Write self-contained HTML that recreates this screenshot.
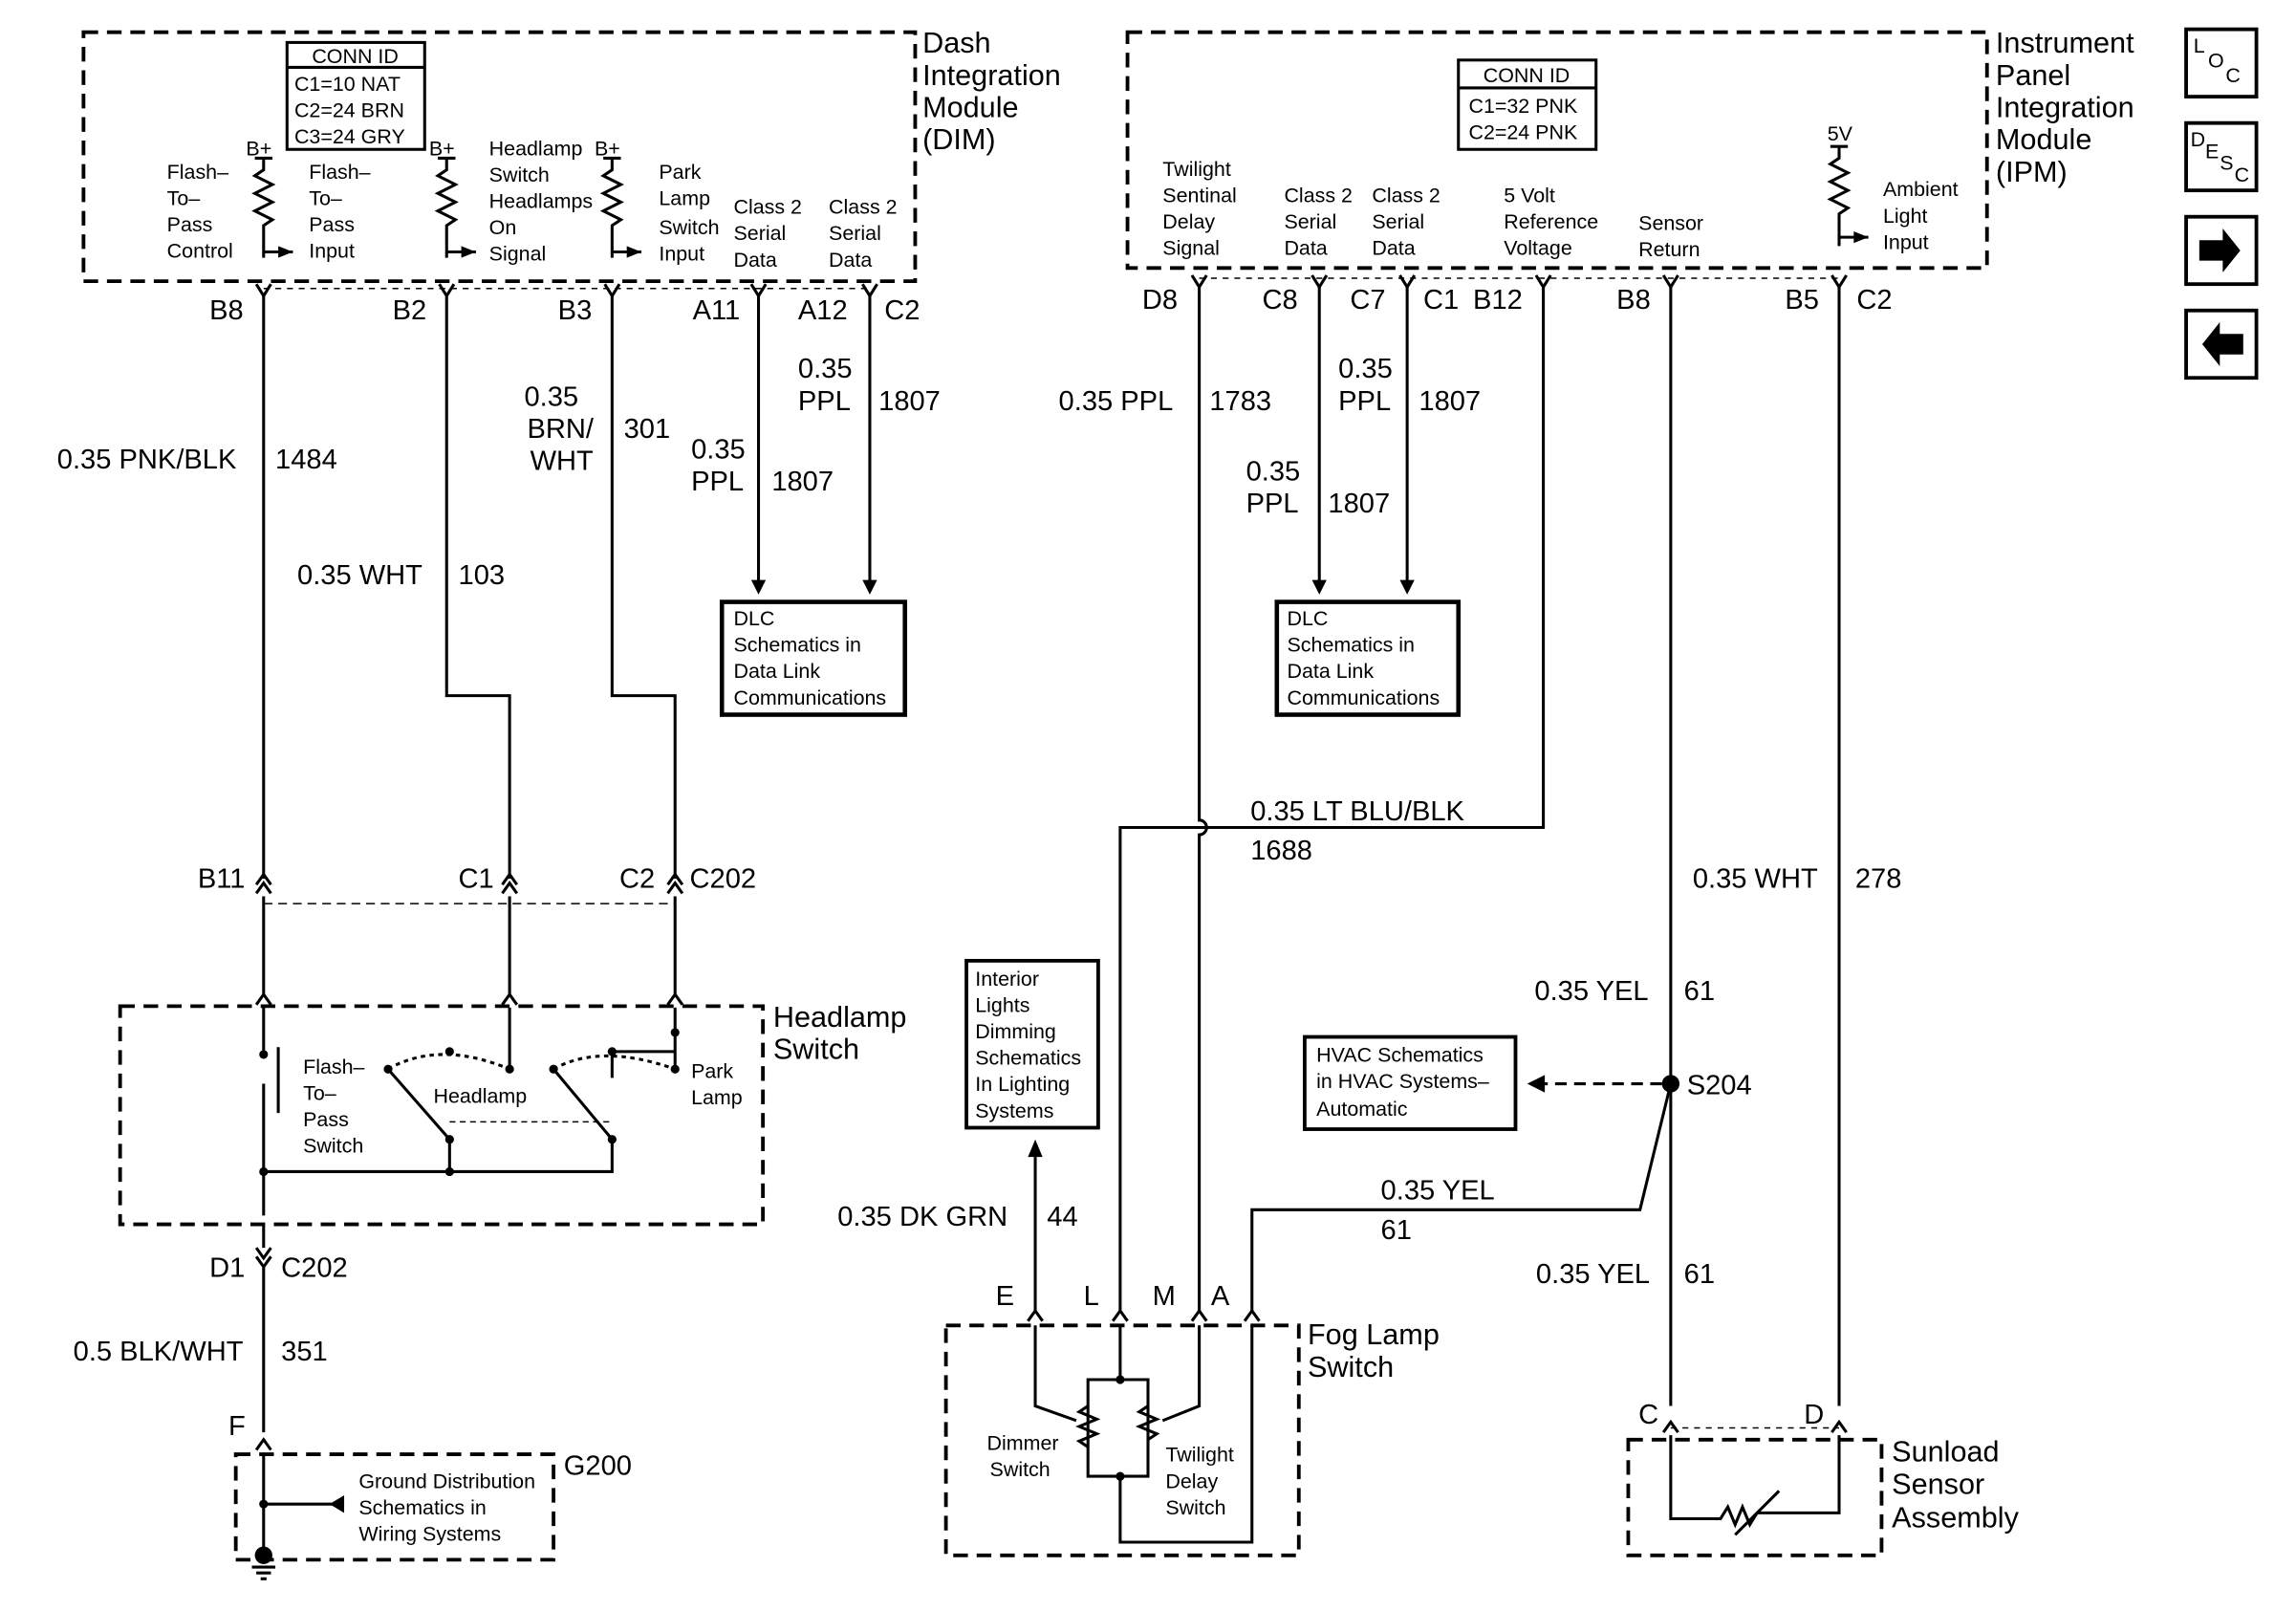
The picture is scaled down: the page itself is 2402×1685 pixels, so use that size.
<!DOCTYPE html>
<html><head><meta charset="utf-8"><style>
html,body{margin:0;padding:0;background:#fff}
svg{display:block}
text{font-family:"Liberation Sans",sans-serif;fill:#000}
.s{font-size:14px}.m{font-size:19px}.l{font-size:20px}
</style></head><body>
<svg width="2402" height="1685" viewBox="0 0 1568 1100" xmlns="http://www.w3.org/2000/svg">
<g fill="none" stroke="#000" stroke-width="2">
<rect x="57" y="22" width="568" height="170" stroke-dasharray="10,6" stroke-width="2.5"/>
<rect x="196" y="29" width="94" height="73"/><line x1="196" y1="46" x2="290" y2="46"/>
<path d="M180 108 v8 l-6 4 l12 6 l-12 6 l12 6 l-12 6 l12 6 l-6 4 v22 M180 172 h20"/>
<path d="M305 108 v8 l-6 4 l12 6 l-12 6 l12 6 l-12 6 l12 6 l-6 4 v22 M305 172 h20"/>
<path d="M418 108 v8 l-6 4 l12 6 l-12 6 l12 6 l-12 6 l12 6 l-6 4 v22 M418 172 h20"/>
<line x1="174" y1="108" x2="186" y2="108"/><line x1="299" y1="108" x2="311" y2="108"/><line x1="412" y1="108" x2="424" y2="108"/>
<line x1="180" y1="197" x2="594" y2="197" stroke-dasharray="4,4" stroke-width="1"/>
<path d="M175 194 l5 8 l5 -8 M300 194 l5 8 l5 -8 M413 194 l5 8 l5 -8 M513 194 l5 8 l5 -8 M589 194 l5 8 l5 -8"/>
<path d="M180 202 V600 M305 202 V475 H348 V600 M418 202 V475 H461 V600 M518 202 V398 M594 202 V398"/>
<rect x="493" y="411" width="125" height="77" stroke-width="3"/>
<path d="M175 610 l5 -7 l5 7 M175 604 l5 -7 l5 7 M343 610 l5 -7 l5 7 M343 604 l5 -7 l5 7 M456 610 l5 -7 l5 7 M456 604 l5 -7 l5 7"/>
<line x1="180" y1="617" x2="461" y2="617" stroke-dasharray="6,4" stroke-width="1"/>
<path d="M180 612 V680 M348 612 V680 M461 612 V680"/>
<path d="M175 686 l5 -7 l5 7 M343 686 l5 -7 l5 7 M456 686 l5 -7 l5 7"/>
<rect x="82" y="687" width="439" height="149" stroke-dasharray="10,6" stroke-width="2.5"/>
<path d="M180 688 V720 M180 740 V830 M190 715 V760 M180 800 H418 V778 M307 800 V778 L265 730 M348 688 V730 M461 688 V730 M418 736 V718 H461 M418 778 L378 730"/>
<path d="M265 730 Q300 710 348 730 M378 730 Q410 712 461 730" stroke-dasharray="3,3"/>
<line x1="307" y1="766" x2="418" y2="766" stroke-dasharray="4,3" stroke-width="1"/>
<path d="M175 852 l5 7 l5 -7 M175 858 l5 7 l5 -7 M180 836 V852 M180 865 V978"/>
<path d="M175 990 l5 -7 l5 7 M180 992 V1058 M180 1027 H235"/>
<rect x="161" y="993" width="217" height="72" stroke-dasharray="10,6" stroke-width="2.5"/>
<path d="M172 1070 h16 M175 1074 h10 M178 1078 h4"/>
<rect x="770" y="22" width="587" height="161" stroke-dasharray="10,6" stroke-width="2.5"/>
<rect x="996" y="41" width="94" height="61"/><line x1="996" y1="60" x2="1090" y2="60"/>
<path d="M1250 100 h12 M1256 100 v8 l-6 4 l12 6 l-12 6 l12 6 l-12 6 l12 6 l-6 4 v22 M1256 162 h20"/>
<line x1="819" y1="190" x2="1256" y2="190" stroke-dasharray="4,4" stroke-width="1"/>
<path d="M814 188 l5 8 l5 -8 M896 188 l5 8 l5 -8 M956 188 l5 8 l5 -8 M1049 188 l5 8 l5 -8 M1136 188 l5 8 l5 -8 M1251 188 l5 8 l5 -8"/>
<path d="M819 196 V560 a5 5 0 0 1 0 10 V895 M901 196 V398 M961 196 V398 M1054 196 V565 H765 V895 M1141 196 V960 M1256 196 V960"/>
<rect x="872" y="411" width="124" height="77" stroke-width="3"/>
<path d="M1141 740 L1120 826 H855 V895"/>
<path d="M1135 740 H1055" stroke-dasharray="8,5"/>
<rect x="891" y="708" width="144" height="63" stroke-width="2.5"/>
<rect x="660" y="656" width="90" height="114" stroke-width="2.5"/>
<path d="M707 895 V790"/>
<path d="M702 902 l5 -7 l5 7 M760 902 l5 -7 l5 7 M814 902 l5 -7 l5 7 M850 902 l5 -7 l5 7"/>
<rect x="646" y="905" width="241" height="157" stroke-dasharray="10,6" stroke-width="2.5"/>
<path d="M707 905 V960 L735 970 M765 905 V942 H743 V1008 H765 V1053 H855 V905 M765 942 H784 V1008 H765 M819 905 V960 L794 970"/>
<path d="M743 960 l-6 4 l12 5 l-12 5 l12 5 l-12 5 l6 4 M784 960 l-6 4 l12 5 l-12 5 l12 5 l-6 4" />
<path d="M1136 978 l5 -7 l5 7 M1251 978 l5 -7 l5 7"/>
<line x1="1141" y1="975" x2="1256" y2="975" stroke-dasharray="4,4" stroke-width="1"/>
<rect x="1112" y="983" width="173" height="79" stroke-dasharray="10,6" stroke-width="2.5"/>
<path d="M1141 980 V1037 H1175 l5 -8 l5 12 l5 -12 l5 12 l5 -8 H1256 V980 M1185 1048 L1215 1018"/>
<rect x="1493" y="20" width="48" height="46" stroke-width="2.5"/>
<rect x="1493" y="84" width="48" height="46" stroke-width="2.5"/>
<rect x="1493" y="148" width="48" height="46" stroke-width="2.5"/>
<rect x="1493" y="212" width="48" height="46" stroke-width="2.5"/>
</g>
<g fill="#000" stroke="none">
<path d="M190 168 l10 4 l-10 4z M315 168 l10 4 l-10 4z M428 168 l10 4 l-10 4z M1266 158 l10 4 l-10 4z"/>
<path d="M513 396 l5 10 l5 -10z M589 396 l5 10 l5 -10z M896 396 l5 10 l5 -10z M956 396 l5 10 l5 -10z"/>
<path d="M235 1021 l-10 6 l10 6z M702 790 l5 -12 l5 12z M1055 734 l-12 6 l12 6z"/>
<circle cx="180" cy="720" r="3"/><circle cx="180" cy="800" r="3"/><circle cx="307" cy="800" r="3"/><circle cx="307" cy="778" r="3"/><circle cx="418" cy="778" r="3"/>
<circle cx="265" cy="730" r="3"/><circle cx="348" cy="730" r="3"/><circle cx="378" cy="730" r="3"/><circle cx="461" cy="730" r="3"/><circle cx="418" cy="718" r="3"/><circle cx="461" cy="705" r="3"/><circle cx="307" cy="718" r="3"/>
<circle cx="180" cy="1027" r="3"/><circle cx="180" cy="1062" r="6"/>
<circle cx="1141" cy="740" r="6"/><circle cx="765" cy="942" r="3"/><circle cx="765" cy="1008" r="3"/>
<path d="M1502 164 h16 v-8 l12 15 l-12 15 v-8 h-16z"/>
<path d="M1532 228 h-16 v-8 l-12 15 l12 15 v-8 h16z"/>
</g>
<text class="l" x="630" y="36">Dash</text><text class="l" x="630" y="58">Integration</text><text class="l" x="630" y="80">Module</text><text class="l" x="630" y="102">(DIM)</text>
<text class="s" x="213" y="43">CONN ID</text><text class="s" x="201" y="62">C1=10 NAT</text><text class="s" x="201" y="80">C2=24 BRN</text><text class="s" x="201" y="98">C3=24 GRY</text>
<text class="s" x="168" y="106">B+</text><text class="s" x="293" y="106">B+</text><text class="s" x="406" y="106">B+</text>
<text class="s" x="114" y="122">Flash–</text><text class="s" x="114" y="140">To–</text><text class="s" x="114" y="158">Pass</text><text class="s" x="114" y="176">Control</text>
<text class="s" x="211" y="122">Flash–</text><text class="s" x="211" y="140">To–</text><text class="s" x="211" y="158">Pass</text><text class="s" x="211" y="176">Input</text>
<text class="s" x="334" y="106">Headlamp</text><text class="s" x="334" y="124">Switch</text><text class="s" x="334" y="142">Headlamps</text><text class="s" x="334" y="160">On</text><text class="s" x="334" y="178">Signal</text>
<text class="s" x="450" y="122">Park</text><text class="s" x="450" y="140">Lamp</text><text class="s" x="450" y="160">Switch</text><text class="s" x="450" y="178">Input</text>
<text class="s" x="501" y="146">Class 2</text><text class="s" x="501" y="164">Serial</text><text class="s" x="501" y="182">Data</text>
<text class="s" x="566" y="146">Class 2</text><text class="s" x="566" y="164">Serial</text><text class="s" x="566" y="182">Data</text>
<text class="m" x="143" y="218">B8</text><text class="m" x="268" y="218">B2</text><text class="m" x="381" y="218">B3</text><text class="m" x="473" y="218">A11</text><text class="m" x="545" y="218">A12</text><text class="m" x="604" y="218">C2</text>
<text class="m" x="39" y="320">0.35 PNK/BLK</text><text class="m" x="188" y="320">1484</text>
<text class="m" x="203" y="399">0.35 WHT</text><text class="m" x="313" y="399">103</text>
<text class="m" x="358" y="277">0.35</text><text class="m" x="360" y="299">BRN/</text><text class="m" x="362" y="321">WHT</text><text class="m" x="426" y="299">301</text>
<text class="m" x="472" y="313">0.35</text><text class="m" x="472" y="335">PPL</text><text class="m" x="527" y="335">1807</text>
<text class="m" x="545" y="258">0.35</text><text class="m" x="545" y="280">PPL</text><text class="m" x="600" y="280">1807</text>
<text class="s" x="501" y="427">DLC</text><text class="s" x="501" y="445">Schematics in</text><text class="s" x="501" y="463">Data Link</text><text class="s" x="501" y="481">Communications</text>
<text class="m" x="135" y="606">B11</text><text class="m" x="313" y="606">C1</text><text class="m" x="423" y="606">C2</text><text class="m" x="471" y="606">C202</text>
<text class="l" x="528" y="701">Headlamp</text><text class="l" x="528" y="723">Switch</text>
<text class="s" x="207" y="733">Flash–</text><text class="s" x="207" y="751">To–</text><text class="s" x="207" y="769">Pass</text><text class="s" x="207" y="787">Switch</text>
<text class="s" x="296" y="753">Headlamp</text><text class="s" x="472" y="736">Park</text><text class="s" x="472" y="754">Lamp</text>
<text class="m" x="143" y="872">D1</text><text class="m" x="192" y="872">C202</text>
<text class="m" x="50" y="929">0.5 BLK/WHT</text><text class="m" x="192" y="929">351</text>
<text class="m" x="156" y="980">F</text><text class="m" x="385" y="1007">G200</text>
<text class="s" x="245" y="1016">Ground Distribution</text><text class="s" x="245" y="1034">Schematics in</text><text class="s" x="245" y="1052">Wiring Systems</text>
<text class="l" x="1363" y="36">Instrument</text><text class="l" x="1363" y="58">Panel</text><text class="l" x="1363" y="80">Integration</text><text class="l" x="1363" y="102">Module</text><text class="l" x="1363" y="124">(IPM)</text>
<text class="s" x="1013" y="56">CONN ID</text><text class="s" x="1003" y="77">C1=32 PNK</text><text class="s" x="1003" y="95">C2=24 PNK</text>
<text class="s" x="1248" y="96">5V</text>
<text class="s" x="794" y="120">Twilight</text><text class="s" x="794" y="138">Sentinal</text><text class="s" x="794" y="156">Delay</text><text class="s" x="794" y="174">Signal</text>
<text class="s" x="877" y="138">Class 2</text><text class="s" x="877" y="156">Serial</text><text class="s" x="877" y="174">Data</text>
<text class="s" x="937" y="138">Class 2</text><text class="s" x="937" y="156">Serial</text><text class="s" x="937" y="174">Data</text>
<text class="s" x="1027" y="138">5 Volt</text><text class="s" x="1027" y="156">Reference</text><text class="s" x="1027" y="174">Voltage</text>
<text class="s" x="1119" y="157">Sensor</text><text class="s" x="1119" y="175">Return</text>
<text class="s" x="1286" y="134">Ambient</text><text class="s" x="1286" y="152">Light</text><text class="s" x="1286" y="170">Input</text>
<text class="m" x="780" y="211">D8</text><text class="m" x="862" y="211">C8</text><text class="m" x="922" y="211">C7</text><text class="m" x="972" y="211">C1</text><text class="m" x="1006" y="211">B12</text><text class="m" x="1104" y="211">B8</text><text class="m" x="1219" y="211">B5</text><text class="m" x="1268" y="211">C2</text>
<text class="m" x="723" y="280">0.35 PPL</text><text class="m" x="826" y="280">1783</text>
<text class="m" x="914" y="258">0.35</text><text class="m" x="914" y="280">PPL</text><text class="m" x="969" y="280">1807</text>
<text class="m" x="851" y="328">0.35</text><text class="m" x="851" y="350">PPL</text><text class="m" x="907" y="350">1807</text>
<text class="s" x="879" y="427">DLC</text><text class="s" x="879" y="445">Schematics in</text><text class="s" x="879" y="463">Data Link</text><text class="s" x="879" y="481">Communications</text>
<text class="m" x="854" y="560">0.35 LT BLU/BLK</text><text class="m" x="854" y="587">1688</text>
<text class="m" x="1156" y="606">0.35 WHT</text><text class="m" x="1267" y="606">278</text>
<text class="m" x="1048" y="683">0.35 YEL</text><text class="m" x="1150" y="683">61</text>
<text class="m" x="1152" y="747">S204</text>
<text class="s" x="899" y="725">HVAC Schematics</text><text class="s" x="899" y="743">in HVAC Systems–</text><text class="s" x="899" y="762">Automatic</text>
<text class="s" x="666" y="673">Interior</text><text class="s" x="666" y="691">Lights</text><text class="s" x="666" y="709">Dimming</text><text class="s" x="666" y="727">Schematics</text><text class="s" x="666" y="745">In Lighting</text><text class="s" x="666" y="763">Systems</text>
<text class="m" x="943" y="819">0.35 YEL</text><text class="m" x="943" y="846">61</text>
<text class="m" x="572" y="837">0.35 DK GRN</text><text class="m" x="715" y="837">44</text>
<text class="m" x="1049" y="876">0.35 YEL</text><text class="m" x="1150" y="876">61</text>
<text class="m" x="680" y="891">E</text><text class="m" x="740" y="891">L</text><text class="m" x="787" y="891">M</text><text class="m" x="827" y="891">A</text>
<text class="l" x="893" y="918">Fog Lamp</text><text class="l" x="893" y="940">Switch</text>
<text class="s" x="674" y="990">Dimmer</text><text class="s" x="676" y="1008">Switch</text>
<text class="s" x="796" y="998">Twilight</text><text class="s" x="796" y="1016">Delay</text><text class="s" x="796" y="1034">Switch</text>
<text class="m" x="1119" y="972">C</text><text class="m" x="1232" y="972">D</text>
<text class="l" x="1292" y="998">Sunload</text><text class="l" x="1292" y="1020">Sensor</text><text class="l" x="1292" y="1043">Assembly</text>
<text class="s" x="1498" y="36">L</text><text class="s" x="1508" y="46">O</text><text class="s" x="1520" y="56">C</text>
<text class="s" x="1496" y="100">D</text><text class="s" x="1506" y="108">E</text><text class="s" x="1516" y="116">S</text><text class="s" x="1526" y="124">C</text>
</svg>
</body></html>
